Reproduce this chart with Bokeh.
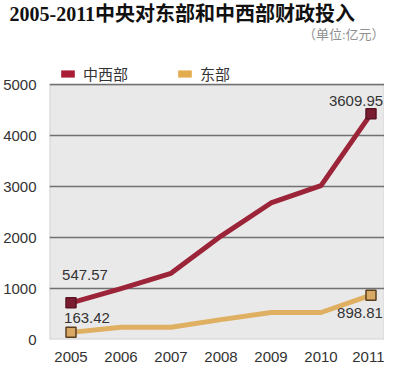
from bokeh.plotting import figure
from bokeh.models import Title, Legend, LegendItem, ColumnDataSource, FixedTicker, BoxAnnotation
from bokeh.core.properties import value
from bokeh.embed import file_html
from bokeh.resources import INLINE

# ---- data ----
years = [2005, 2006, 2007, 2008, 2009, 2010, 2011]
central_west = [720, 1000, 1300, 2030, 2680, 3020, 4430]
east = [140, 240, 240, 390, 530, 530, 870]
y_ticks = [0, 1000, 2000, 3000, 4000, 5000]
cw_labels = ["547.57", "3609.95"]
east_labels = ["163.42", "898.81"]
series_names = ["中西部", "东部"]
title_text = "2005-2011中央对东部和中西部财政投入"
unit_text = "（单位:亿元）"

RED = "#9c2438"
RED_DARK = "#5a1422"
YEL = "#e0b062"
YEL_DARK = "#5a4020"

Y_TOP = 5850  # extra room above the plot area for the legend

p = figure(width=384, height=364, output_backend="svg", toolbar_location=None,
           x_range=(2004.57, 2011.27), y_range=(0, Y_TOP), title=None,
           min_border_left=40, min_border_right=0, min_border_top=0, min_border_bottom=0)
p.background_fill_color = "white"
p.border_fill_color = "white"
p.outline_line_color = None

# grey plot area with border, spanning the value axis range
p.add_layout(BoxAnnotation(bottom=y_ticks[0], top=y_ticks[-1], fill_color="#e9e9e9",
                           fill_alpha=1, line_color="#707070", line_width=1.5,
                           level="image"))

for ax in (p.xaxis, p.yaxis):
    ax.axis_line_color = None
    ax.major_tick_line_color = None
    ax.minor_tick_line_color = None
    ax.major_label_text_font = "Liberation Sans"
    ax.major_label_text_font_size = "15px"
    ax.major_label_text_color = "#333333"
p.xaxis.ticker = FixedTicker(ticks=years)
p.yaxis.ticker = FixedTicker(ticks=y_ticks)
p.xaxis.major_label_standoff = 6
p.yaxis.major_label_standoff = 7
p.xgrid.grid_line_color = None
p.ygrid.grid_line_color = "#707070"
p.ygrid.grid_line_width = 1.5

src = ColumnDataSource(dict(year=years, cw=central_west, east=east))
p.line("year", "east", source=src, line_color=YEL, line_width=5, line_join="round")
p.line("year", "cw", source=src, line_color=RED, line_width=5, line_join="round")

ends = ColumnDataSource(dict(
    x=[years[0], years[-1]],
    cw=[central_west[0], central_west[-1]],
    east=[east[0], east[-1]],
    cw_text=cw_labels, east_text=east_labels,
    cw_dx=[14, -15], cw_dy=[-28, -13],
    e_dx=[16, -11], e_dy=[-14, 18],
))
p.scatter("x", "cw", source=ends, marker="square", size=10, fill_color="#7a1d30",
          line_color=RED_DARK, line_width=1.5)
p.scatter("x", "east", source=ends, marker="square", size=10, fill_color="#d8a865",
          line_color=YEL_DARK, line_width=1.5)
p.text("x", "cw", text="cw_text", source=ends, x_offset="cw_dx", y_offset="cw_dy",
       text_align="center", text_baseline="middle", text_font=value("Liberation Sans"),
       text_font_size="15px", text_color="#333333")
p.text("x", "east", text="east_text", source=ends, x_offset="e_dx", y_offset="e_dy",
       text_align="center", text_baseline="middle", text_font=value("Liberation Sans"),
       text_font_size="15px", text_color="#333333")

# legend swatches: zero-size rects (invisible on the plot, shown in the legend)
r1 = p.rect(x="year", y="cw", source=src, width=0, height=0,
            fill_color="#a81c34", line_color=None)
r2 = p.rect(x="year", y="east", source=src, width=0, height=0,
            fill_color="#e3ad4f", line_color=None)
legend = Legend(items=[LegendItem(label=series_names[0], renderers=[r1]),
                       LegendItem(label=series_names[1], renderers=[r2])],
                orientation="horizontal", location=(10, 255),
                glyph_width=17, glyph_height=9, label_standoff=7, spacing=48,
                padding=0, margin=0, border_line_color=None,
                background_fill_alpha=0,
                label_text_font="Noto Sans CJK SC", label_text_font_size="15px",
                label_text_color="#333333")
p.add_layout(legend, "center")

p.add_layout(Title(text=unit_text, align="right",
                   text_font="Liberation Serif, Noto Sans CJK SC",
                   text_font_size="13px", text_color="#909090", offset=0,
                   text_font_style="normal", standoff=0), "above")
p.add_layout(Title(text=title_text, align="left",
                   text_font="Liberation Serif, Noto Sans CJK SC",
                   text_font_size="20px", text_color="#111111",
                   text_font_style="bold", offset=-40, standoff=0), "above")

open("out.html", "w").write(file_html(p, INLINE))
